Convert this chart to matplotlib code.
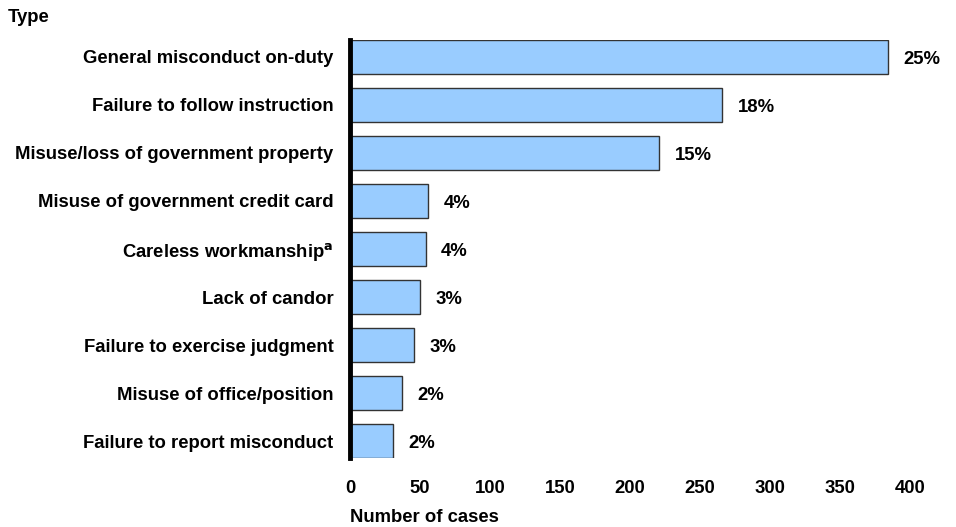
import matplotlib.pyplot as plt

plt.rcParams['font.family'] = ['Liberation Sans', 'DejaVu Sans']
plt.rcParams['font.weight'] = 'bold'

# misconduct types, largest first
types = ["General misconduct on-duty", "Failure to follow instruction",
         "Misuse/loss of government property", "Misuse of government credit card",
         "Careless workmanship$^\\mathbf{a}$", "Lack of candor",
         "Failure to exercise judgment", "Misuse of office/position",
         "Failure to report misconduct"]
cases = [384, 266, 221, 56, 54, 50, 46, 37, 31]
pct_labels = ["25%", "18%", "15%", "4%", "4%", "3%", "3%", "2%", "2%"]
xticks = [0, 50, 100, 150, 200, 250, 300, 350, 400]

FS = 13.3

fig = plt.figure(figsize=(9.56, 5.27), dpi=100)
ax = fig.add_axes([350/956, 1 - 458/527, 560/956, 418/527])

ypos = list(range(len(types)))
ax.barh(ypos, cases, height=0.7, color='#99CCFF', edgecolor='#333333', linewidth=1.0, zorder=2)

for y, v, lab in zip(ypos, cases, pct_labels):
    ax.annotate(lab, xy=(v, y), xytext=(11, -2), textcoords='offset points',
                ha='left', va='center', fontsize=FS, fontweight='bold')

ax.set_ylim(len(types) - 0.65, -0.35)
ax.set_xlim(0, 400)
ax.set_yticks(ypos)
ax.set_yticklabels(types, fontsize=FS, fontweight='bold')
ax.set_xticks(xticks)
ax.set_xticklabels([str(t) for t in xticks], fontsize=FS, fontweight='bold')
ax.tick_params(axis='y', length=0, pad=12)
ax.tick_params(axis='x', length=0, pad=16)

for side in ['top', 'right', 'bottom']:
    ax.spines[side].set_visible(False)
ax.spines['left'].set_linewidth(3.5)
ax.spines['left'].set_zorder(3)

fig.text(350/956, 1 - 518/527, "Number of cases", ha='left', va='center',
         fontsize=FS, fontweight='bold')
fig.text(8/956, 1 - 17/527, "Type", ha='left', va='center',
         fontsize=FS, fontweight='bold')

fig.savefig("out.png", dpi=100)
